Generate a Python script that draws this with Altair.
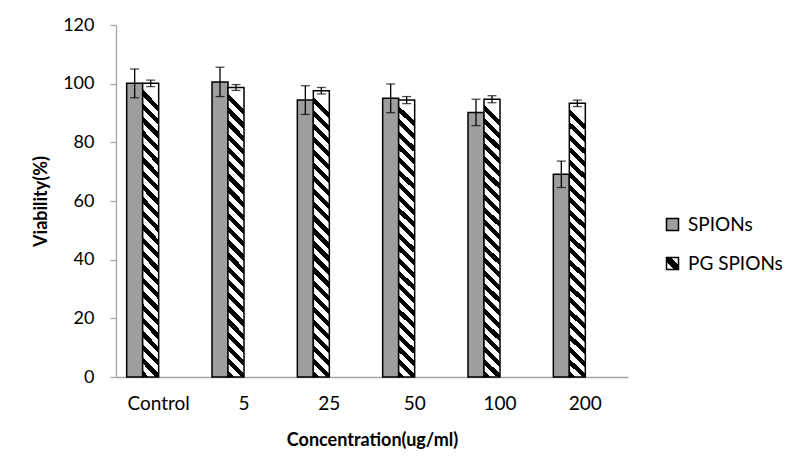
import altair as alt
import pandas as pd

categories = ["Control", "5", "25", "50", "100", "200"]
series_names = ["SPIONs", "PG SPIONs"]
spions_values = [100.1, 100.6, 94.4, 95.0, 90.2, 69.1]
spions_errors = [4.9, 5.0, 4.9, 4.9, 4.5, 4.5]
pg_values = [100.1, 98.7, 97.6, 94.4, 94.7, 93.3]
pg_errors = [1.1, 1.0, 1.1, 1.2, 1.2, 1.1]
y_ticks = [0, 20, 40, 60, 80, 100, 120]

rows = []
for name, vals, errs in [(series_names[0], spions_values, spions_errors),
                         (series_names[1], pg_values, pg_errors)]:
    for c, v, e in zip(categories, vals, errs):
        rows.append({"category": c, "series": name, "value": v, "lo": v - e, "hi": v + e})
df = pd.DataFrame(rows)


def stripes(n, black_frac, x1, y1, x2, y2):
    stops = []
    for k in range(n):
        a = k / n
        b = (k + black_frac) / n
        c = (k + 1) / n
        stops += [{"offset": a, "color": "black"}, {"offset": b, "color": "black"},
                  {"offset": b, "color": "white"}, {"offset": c, "color": "white"}]
    return {"gradient": "linear", "x1": x1, "y1": y1, "x2": x2, "y2": y2, "stops": stops}


bar_stripes = stripes(22, 0.48, 0, 1, 0.056, 0)
legend_stripes_expr = ("{gradient: 'linear', x1: 0, y1: 1, x2: 1, y2: 0, stops: ["
                       "{offset: 0, color: 'white'}, {offset: 0.33, color: 'white'}, "
                       "{offset: 0.33, color: 'black'}, {offset: 0.67, color: 'black'}, "
                       "{offset: 0.67, color: 'white'}, {offset: 1, color: 'white'}]}")
CROSS = "#9e9e9e"
FONT = "Lato"
YT = "Viability(%)"

x_enc = alt.X("category:N", sort=categories,
              scale=alt.Scale(paddingInner=0.25, paddingOuter=0.125),
              axis=alt.Axis(ticks=False, tickSize=0, labelAngle=0, domainColor="#a6a6a6",
                            domainWidth=1.3, labelFont=FONT, labelFontSize=19, labelColor="black",
                            labelPadding=17, title="Concentration(ug/ml)", titleFont=FONT,
                            titleFontSize=18, titleFontWeight="bold", titleColor="black",
                            titlePadding=18))
xo_enc = alt.XOffset("series:N",
                     scale=alt.Scale(domain=series_names + ["_3", "_4"], paddingInner=0, paddingOuter=0))
y_scale = alt.Scale(domain=[0, 120], nice=False)
y_axis = alt.Axis(values=y_ticks, grid=False, domainColor="#a6a6a6", domainWidth=1.3,
                  tickColor="#a6a6a6", tickWidth=1.3, tickSize=6, labelFont=FONT, labelFontSize=18,
                  labelColor="black", labelPadding=16, title=YT, titleFont=FONT,
                  titleFontSize=18, titleFontWeight="bold", titleColor="black", titlePadding=12)

legend = alt.Legend(orient="none", legendX=547, legendY=190, title=None, symbolType="square",
                    symbolSize=144, symbolStrokeWidth=1.5, symbolStrokeColor="black",
                    symbolOpacity=1, labelFont=FONT, labelFontSize=19,
                    labelColor="black", labelOffset=6, rowPadding=19, padding=0)

base = alt.Chart(df).encode(x=x_enc, xOffset=xo_enc)

bars_s = base.transform_filter(alt.datum.series == series_names[0]).mark_bar(
    color=CROSS, stroke="black", strokeWidth=1.5).encode(
    y=alt.Y("value:Q", scale=y_scale, axis=y_axis, title=YT))
bars_p = base.transform_filter(alt.datum.series == series_names[1]).mark_bar(
    color=bar_stripes, stroke="black", strokeWidth=1.5).encode(
    y=alt.Y("value:Q", scale=y_scale, axis=y_axis, title=YT))

err = base.mark_rule(color="black", strokeWidth=1.3).encode(
    y=alt.Y("lo:Q", scale=y_scale, title=YT), y2=alt.Y2("hi:Q", title=YT))
cap_hi = base.mark_tick(color="black", thickness=1.3, size=9).encode(
    y=alt.Y("hi:Q", scale=y_scale, title=YT))
cap_lo = base.mark_tick(color="black", thickness=1.3, size=9).encode(
    y=alt.Y("lo:Q", scale=y_scale, title=YT))

legend_layer = base.mark_square(opacity=0, stroke="black").encode(
    y=alt.Y("value:Q", scale=y_scale, title=YT),
    fill=alt.Fill("series:N", scale=alt.Scale(domain=series_names,
                                              range=[CROSS, alt.ExprRef(legend_stripes_expr)]),
                  legend=legend))

chart = alt.layer(bars_s, bars_p, err, cap_hi, cap_lo, legend_layer).properties(
    width=512, height=352,
    background="white",
    autosize=alt.AutoSizeParams(type="none"),
    padding={"left": 108, "top": 17, "right": 164, "bottom": 80},
).configure_view(stroke=None)

chart.save("out.html", embed_options={"renderer": "svg", "actions": False})
